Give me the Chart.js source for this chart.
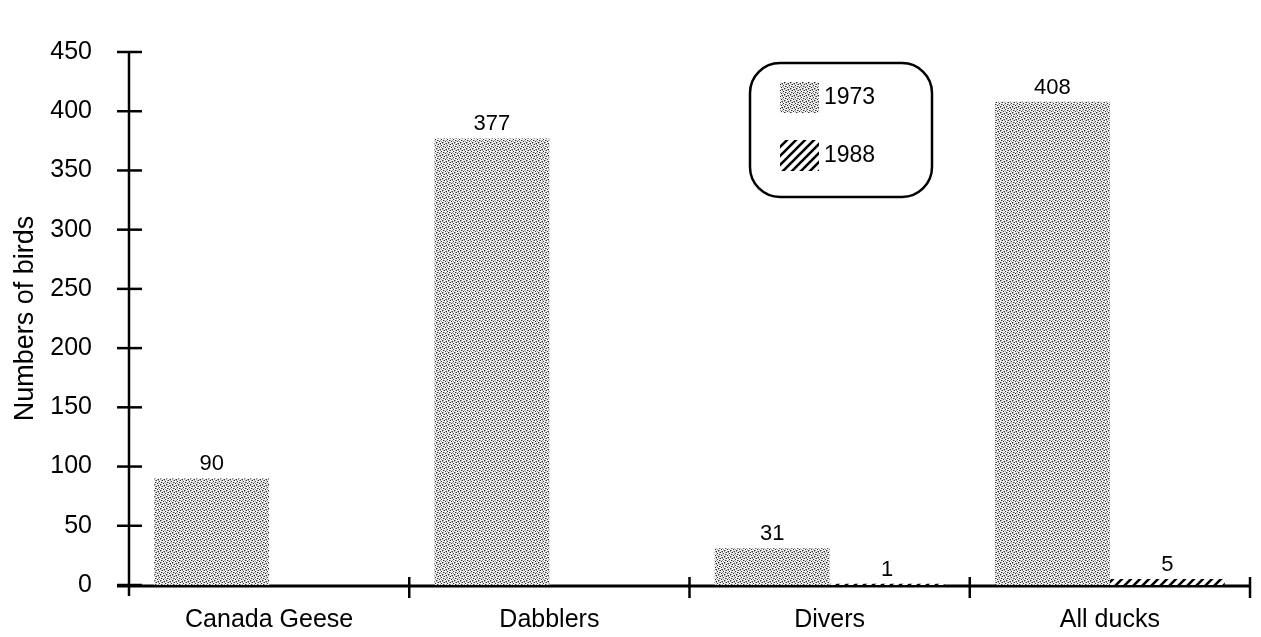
<!DOCTYPE html>
<html>
<head>
<meta charset="utf-8">
<title>Numbers of birds, 1973 and 1988</title>
<script src="https://cdn.jsdelivr.net/npm/chart.js@4/dist/chart.umd.min.js"></script>
<style>
  html, body { margin: 0; padding: 0; background: #fff; }
  canvas { display: block; }
</style>
</head>
<body>
<canvas id="grafico" width="1261" height="637"></canvas>
<script>
// Dados
const categorias = ['Canada Geese', 'Dabblers', 'Divers', 'All ducks'];
const anos = ['1973', '1988'];
const valores1973 = [90, 377, 31, 408];
const valores1988 = [null, null, 1, 5];
const ticksY = [0, 50, 100, 150, 200, 250, 300, 350, 400, 450];

const FONTE = '"Liberation Sans", Arial, Helvetica, sans-serif';

// Textura pontilhada (retícula cinza) para 1973
function criarPontilhado() {
    const c = document.createElement('canvas');
    c.width = 6; c.height = 6;
    const g = c.getContext('2d');
    g.fillStyle = '#f0f0f0';
    g.fillRect(0, 0, 6, 6);
    g.fillStyle = '#303030';
    [[0, 0], [3, 1], [1, 3], [4, 4], [5, 2], [2, 5]].forEach(([x, y]) => g.fillRect(x, y, 1, 1));
    g.fillStyle = '#9a9a9a';
    [[2, 0], [5, 0], [0, 2], [3, 3], [1, 5], [4, 5], [2, 2], [5, 4]].forEach(([x, y]) => g.fillRect(x, y, 1, 1));
    return g.createPattern(c, 'repeat');
}

// Hachura diagonal para 1988
function criarHachura() {
    const c = document.createElement('canvas');
    c.width = 9; c.height = 9;
    const g = c.getContext('2d');
    g.fillStyle = '#fff';
    g.fillRect(0, 0, 9, 9);
    g.strokeStyle = '#000';
    g.lineWidth = 2.6;
    g.beginPath();
    g.moveTo(-2, 11); g.lineTo(11, -2);
    g.moveTo(-7, 7); g.lineTo(7, -7);
    g.moveTo(2, 16); g.lineTo(16, 2);
    g.stroke();
    return g.createPattern(c, 'repeat');
}

const pontilhado = criarPontilhado();
const hachura = criarHachura();

// Eixos com marcas cruzando a linha
const pluginEixos = {
    id: 'eixos',
    beforeDatasetsDraw(chart) {
        const { ctx, chartArea } = chart;
        const x = chart.scales.x;
        const y = chart.scales.y;
        const base = y.getPixelForValue(0);
        ctx.save();
        ctx.strokeStyle = '#000';
        ctx.lineWidth = 2.5;
        ctx.beginPath();
        ctx.moveTo(chartArea.left, y.getPixelForValue(450));
        ctx.lineTo(chartArea.left, base + 11);
        ctx.stroke();
        ticksY.forEach(v => {
            const py = y.getPixelForValue(v);
            ctx.beginPath();
            ctx.moveTo(chartArea.left - 12, py);
            ctx.lineTo(chartArea.left + 13, py);
            ctx.stroke();
        });
        ctx.lineWidth = 3;
        ctx.beginPath();
        ctx.moveTo(chartArea.left - 12, base + 1);
        ctx.lineTo(chartArea.right, base + 1);
        ctx.stroke();
        ctx.lineWidth = 2.5;
        for (let i = 1; i <= categorias.length; i++) {
            const px = (x.getPixelForValue(i - 1) + x.getPixelForValue(i)) / 2;
            const bx = i === categorias.length ? chartArea.right : px;
            ctx.beginPath();
            ctx.moveTo(bx, base - 8);
            ctx.lineTo(bx, base + 13);
            ctx.stroke();
        }
        ctx.restore();
    }
};

// Valores escritos acima das barras
const pluginValores = {
    id: 'valores',
    afterDatasetsDraw(chart) {
        const { ctx } = chart;
        ctx.save();
        ctx.fillStyle = '#000';
        ctx.font = '22px ' + FONTE;
        ctx.textAlign = 'center';
        ctx.textBaseline = 'alphabetic';
        chart.data.datasets.forEach((ds, i) => {
            chart.getDatasetMeta(i).data.forEach((barra, j) => {
                const v = ds.data[j];
                if (v === null || v === undefined) return;
                ctx.fillText(String(v), barra.x, barra.y - 8);
            });
        });
        ctx.restore();
    }
};

// Legenda em caixa arredondada
const pluginLegenda = {
    id: 'legendaCaixa',
    afterDraw(chart) {
        const { ctx } = chart;
        const bx = 750, by = 63, bw = 182, bh = 134;
        ctx.save();
        ctx.strokeStyle = '#000';
        ctx.lineWidth = 2.5;
        ctx.beginPath();
        ctx.roundRect(bx, by, bw, bh, 30);
        ctx.stroke();
        ctx.font = '23px ' + FONTE;
        ctx.textBaseline = 'middle';
        chart.data.datasets.forEach((ds, i) => {
            const sy = by + 19 + i * 58;
            ctx.fillStyle = ds.backgroundColor;
            ctx.fillRect(bx + 30, sy, 39, 31);
            ctx.fillStyle = '#000';
            ctx.fillText(ds.label, bx + 74, sy + 16);
        });
        ctx.restore();
    }
};

new Chart(document.getElementById('grafico'), {
    type: 'bar',
    data: {
        labels: categorias,
        datasets: [
            { label: anos[0], data: valores1973, backgroundColor: pontilhado, borderWidth: 0 },
            { label: anos[1], data: valores1988, backgroundColor: hachura, borderWidth: 0 }
        ]
    },
    options: {
        responsive: false,
        animation: false,
        devicePixelRatio: 1,
        categoryPercentage: 0.82,
        barPercentage: 1.0,
        layout: { padding: { top: 30, right: 11, left: 0, bottom: 0 } },
        plugins: {
            legend: { display: false },
            tooltip: { enabled: false }
        },
        scales: {
            x: {
                offset: true,
                grid: { display: false, drawTicks: false },
                border: { display: false },
                ticks: {
                    color: '#000',
                    padding: 20,
                    font: { family: FONTE, size: 25 }
                },
                afterFit(scale) { scale.height = 52; }
            },
            y: {
                min: 0,
                max: 450,
                grid: { display: false, drawTicks: false },
                border: { display: false },
                afterBuildTicks(scale) { scale.ticks = ticksY.map(v => ({ value: v })); },
                ticks: {
                    color: '#000',
                    padding: 37,
                    font: { family: FONTE, size: 25 }
                },
                title: {
                    display: true,
                    text: 'Numbers of birds',
                    color: '#000',
                    padding: { top: 9, bottom: 0 },
                    font: { family: FONTE, size: 27 }
                },
                afterFit(scale) { scale.width = 129; }
            }
        }
    },
    plugins: [pluginEixos, pluginValores, pluginLegenda]
});
</script>
</body>
</html>
